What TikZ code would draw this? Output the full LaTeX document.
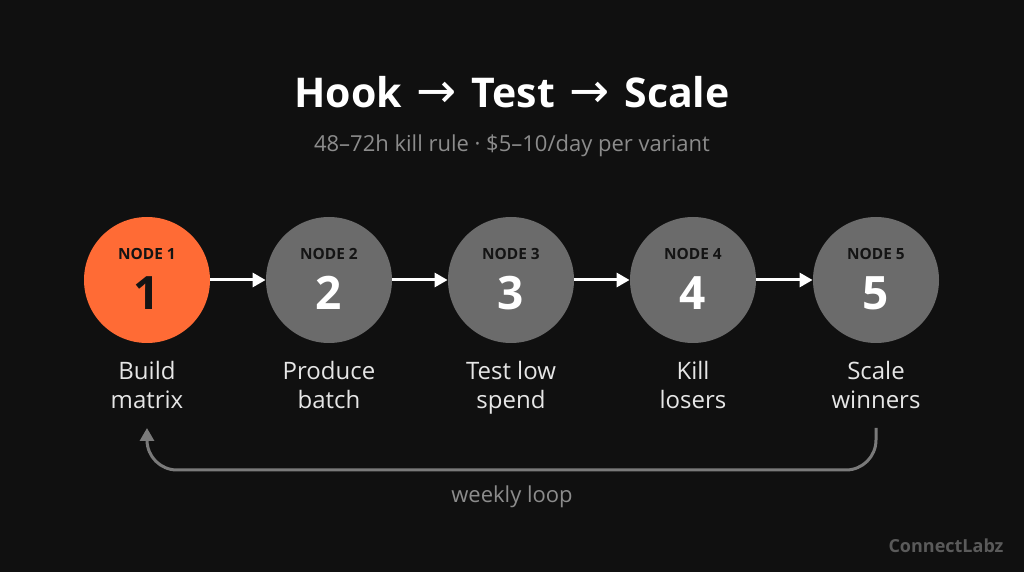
\documentclass[tikz,border=0pt]{standalone}
\usepackage{fontspec}
\setmainfont{Open Sans}
\newfontfamily\arrowfont{DejaVu Sans}
\usetikzlibrary{positioning}
\usetikzlibrary{calc}
\usetikzlibrary{arrows.meta}

\definecolor{bg}{HTML}{101010}
\definecolor{hot}{HTML}{FF6B35}
\definecolor{step}{HTML}{6B6B6B}
\definecolor{ink}{HTML}{141414}
\definecolor{pale}{HTML}{E6E6E6}
\definecolor{dim}{HTML}{8C8C8C}
\definecolor{loopc}{HTML}{7A7A7A}
\definecolor{mark}{HTML}{5A5A5A}

\tikzset{
  disc/.style={circle,fill=step,minimum size=63pt,inner sep=0pt},
  tag/.style={font=\fontsize{7.7}{8}\selectfont\bfseries,text=ink},
  num/.style={font=\fontsize{23}{24}\selectfont\bfseries,text=white},
  caption/.style={font=\fontsize{12}{14.5}\selectfont,text=pale,align=center,anchor=north},
  flow/.style={draw=white,line width=1.5pt,-{Triangle[length=6.5pt,width=7pt]}},
  back/.style={draw=loopc,line width=1.5pt,-{Triangle[length=6.5pt,width=7pt]},rounded corners=15pt}
}
\newcommand{\thento}{\hspace{0.1em}{\arrowfont\mdseries\fontsize{24}{26}\selectfont →}\hspace{0.1em}}

\begin{document}
\begin{tikzpicture}[x=0.5pt,y=-0.5pt]
\fill[bg] (0,0) rectangle (1024,572);
\useasboundingbox (0,0) rectangle (1024,572);

\node[font=\fontsize{20.5}{22}\selectfont\bfseries,text=white](title) at (512,92){Hook \thento{} Test \thento{} Scale};
\node[font=\fontsize{11}{13}\selectfont,text=dim](sub) at (512,146){48–72h kill rule · \$5–10/day per variant};

\node[disc,fill=hot](n1) at (147,280){};
\node[disc](n2) at (329,280){};
\node[disc](n3) at (511,280){};
\node[disc](n4) at (693,280){};
\node[disc](n5) at (876,280){};

\node[tag](t1) at (147,254){NODE 1};
\node[tag](t2) at (329,254){NODE 2};
\node[tag](t3) at (511,254){NODE 3};
\node[tag](t4) at (693,254){NODE 4};
\node[tag](t5) at (876,254){NODE 5};

\node[num,text=ink](d1) at (147,293){1};
\node[num](d2) at (329,293){2};
\node[num](d3) at (511,293){3};
\node[num](d4) at (693,293){4};
\node[num](d5) at (876,293){5};

\node[caption](c1) at (147,354){Build\\matrix};
\node[caption](c2) at (329,354){Produce\\batch};
\node[caption](c3) at (511,354){Test low\\spend};
\node[caption](c4) at (693,354){Kill\\losers};
\node[caption](c5) at (876,354){Scale\\winners};

\path
(n1) edge[flow]node{} (n2)
(n2) edge[flow]node{} (n3)
(n3) edge[flow]node{} (n4)
(n4) edge[flow]node{} (n5);

% weekly loop back to the start
\coordinate(loopR) at (876,428);
\coordinate(loopL) at (147,428);
\coordinate(loopM) at (511,470);
\draw[back] (loopR) |- (loopM) -| (loopL);
\node[font=\fontsize{11}{13}\selectfont,text=dim](weekly) at (512,497){weekly loop};

\node[font=\fontsize{9}{10}\selectfont\bfseries,text=mark](brand) at (946,546){ConnectLabz};
\end{tikzpicture}
\end{document}
